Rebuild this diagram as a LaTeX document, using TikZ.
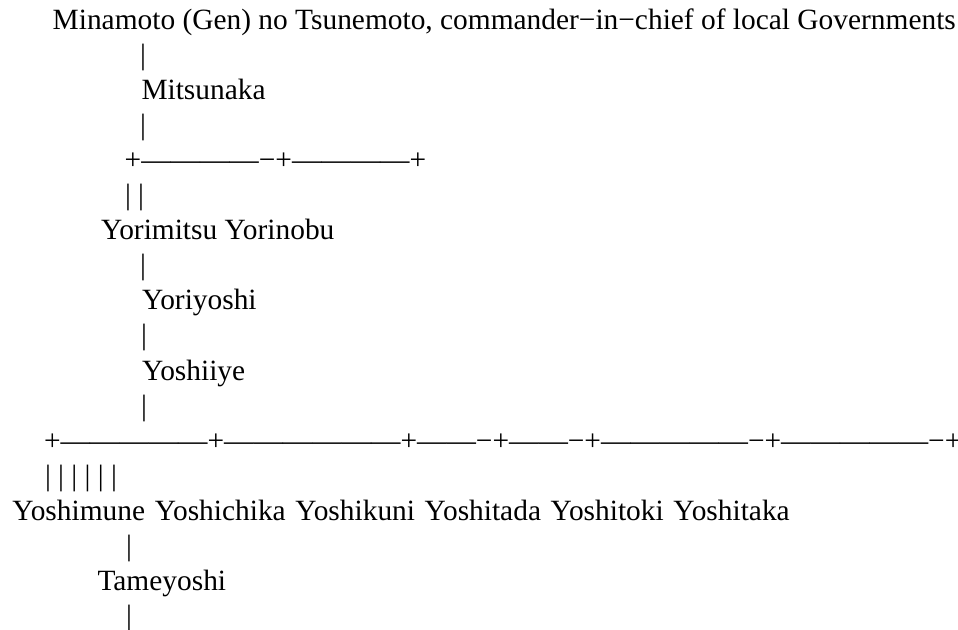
\documentclass[tikz,border=0pt]{standalone}
\usepackage{fontspec}
\setmainfont{Liberation Serif}
\tikzset{ln/.style={anchor=base west, inner sep=0pt, outer sep=0pt, text=black, font=\fontsize{29.4}{35.1}\selectfont}}
\begin{document}
\begin{tikzpicture}[x=1pt,y=-1pt]
\useasboundingbox (0,0) rectangle (958,629);
\node[ln] (title) at (52.7,29) {Minamoto (Gen) no Tsunemoto, commander−in−chief of local Governments};
\node[ln] (b1) at (140,64.1) {|};
\node[ln] (mitsunaka) at (141.5,99.2) {Mitsunaka};
\node[ln] (b3) at (140,134.3) {|};
\node[ln] (br1) at (124.7,169.4) {+————−+————+};
\node[ln] (b5) at (125,204.5) {| |};
\node[ln] (yori) at (101,239.6) {Yorimitsu Yorinobu};
\node[ln] (b7) at (140,274.7) {|};
\node[ln] (yoriyoshi) at (142,309.8) {Yoriyoshi};
\node[ln] (b9) at (141,344.9) {|};
\node[ln] (yoshiiye) at (142,380) {Yoshiiye};
\node[ln] (b11) at (141,415.1) {|};
\node[ln] (br2) at (44,450.2) {+—————+——————+——−+——−+—————−+—————−+};
\node[ln] (b13) at (45,485.3) {| | | | | |};
\node[ln] (sons) at (12.5,520.4) {\spaceskip=9.7pt Yoshimune Yoshichika Yoshikuni Yoshitada Yoshitoki Yoshitaka};
\node[ln] (b15) at (126,555.5) {|};
\node[ln] (tameyoshi) at (97.5,590.6) {Tameyoshi};
\node[ln] (b17) at (126,625.7) {|};
\end{tikzpicture}
\end{document}
